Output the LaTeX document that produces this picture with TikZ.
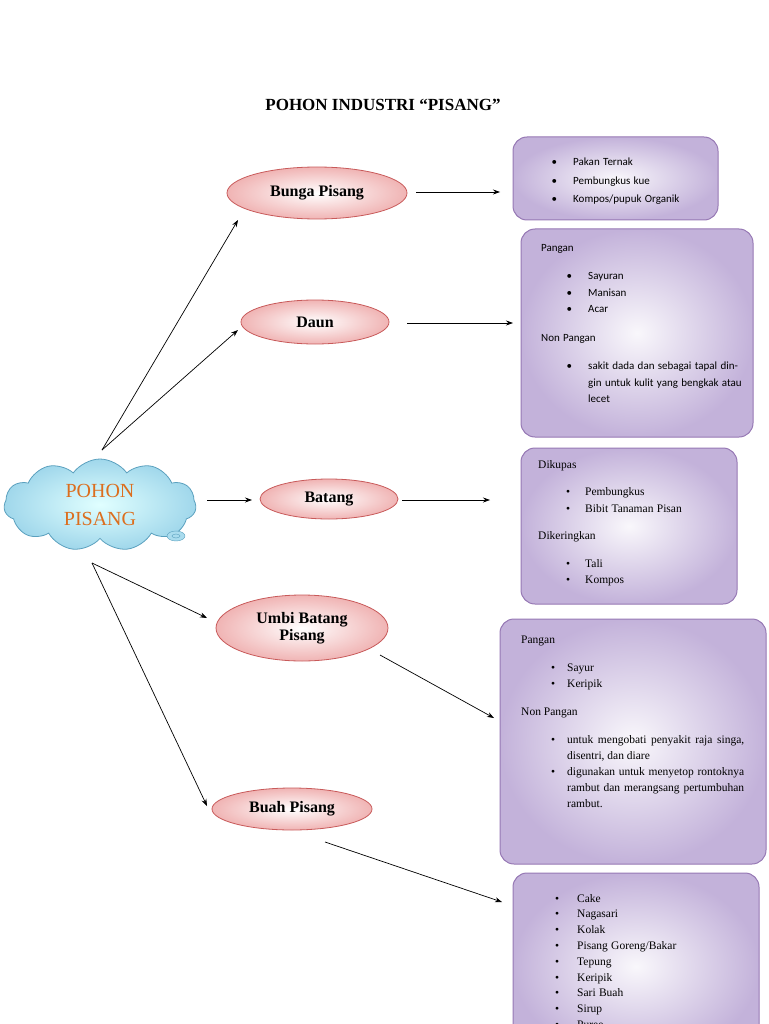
\documentclass[tikz,border=0pt]{standalone}
\usepackage{fontspec}
\setmainfont{Liberation Serif}
\newfontfamily\calfont{Carlito}
\usetikzlibrary{shapes.symbols,shapes.geometric,arrows.meta}
\definecolor{pbord}{RGB}{150,120,180}
\definecolor{pdark}{RGB}{195,178,218}
\definecolor{rbord}{RGB}{200,90,90}
\newcommand\bul[2]{\par\hangindent=#1pt\hangafter=0\noindent\llap{\textbullet\hspace{#2pt}}}
\begin{document}
\begin{tikzpicture}[x=1pt,y=-1pt,
 ell/.style={ellipse,draw=rbord,line width=0.8pt,inner color=white,outer color={rgb,255:red,240;green,180;blue,180},font=\bfseries\fontsize{16}{17}\selectfont,align=center,inner sep=0},
 box/.style={draw=pbord,line width=1pt,rounded corners=14pt,inner color=white!90!pdark,outer color=pdark},
 txt/.style={anchor=north west,inner sep=0,align=left},
 arr/.style={-{Stealth[length=7pt,width=5pt]},line width=0.7pt}]
\path[use as bounding box] (0,0) rectangle (768,1024);
\clip (0,0) rectangle (768,1024);
\node (title) at (383,105) {\bfseries\fontsize{17}{18}\selectfont POHON INDUSTRI “PISANG”};
% boxes
\draw[box] (513,137) rectangle (718,220);
\draw[box] (521,229) rectangle (753,437);
\draw[box] (521,448) rectangle (737,604);
\draw[box] (500,619) rectangle (766,864);
\draw[box] (513,873) rectangle (759,1060);
% ellipses
\node[ell,minimum width=180,minimum height=52] (bunga) at (317,193) {Bunga Pisang};
\node[ell,minimum width=148,minimum height=44] (daun) at (315,322) {Daun};
\node[ell,minimum width=138,minimum height=40] (batang) at (329,499) {Batang};
\node[ell,minimum width=172,minimum height=66] (umbi) at (302,628) {Umbi Batang\\Pisang};
\node[ell,minimum width=160,minimum height=42] (buah) at (292,809) {Buah Pisang};
% cloud
\node[cloud,cloud puffs=11,cloud puff arc=110,aspect=2,draw={rgb,255:red,90;green,160;blue,190},line width=0.8pt,inner color=white!70!cyan!40,outer color={rgb,255:red,160;green,215;blue,235},minimum width=192,minimum height=92,align=center,font=\fontsize{20}{28}\selectfont,text={rgb,255:red,220;green,110;blue,30}] (cloud) at (100,505) {POHON\\PISANG};
\draw[draw={rgb,255:red,90;green,160;blue,190},fill={rgb,255:red,170;green,220;blue,238}] (176,536) ellipse (9 and 5);
\draw[draw={rgb,255:red,90;green,160;blue,190}] (176,536) ellipse (4 and 2);
% coordinates
\coordinate (c1) at (102,450);
\coordinate (c2) at (92,563);
\coordinate (t1) at (500,192);\coordinate (s1) at (416,192);
\coordinate (t2) at (513,323);\coordinate (s2) at (407,323);
\coordinate (t3) at (490,500);\coordinate (s3) at (402,500);
\coordinate (t4) at (494,718);\coordinate (s4) at (380,655);
\coordinate (t5) at (502,902);\coordinate (s5) at (325,842);
\coordinate (e1) at (238,220);\coordinate (e2) at (238,330);
\coordinate (e3a) at (207,500);\coordinate (e3) at (252,500);
\coordinate (e4) at (207,618);\coordinate (e5) at (207,806);
\draw[arr] (c1) -- (e1);
\draw[arr] (c1) -- (e2);
\draw[arr] (e3a) -- (e3);
\draw[arr] (c2) -- (e4);
\draw[arr] (c2) -- (e5);
\draw[arr] (s1) -- (t1);
\draw[arr] (s2) -- (t2);
\draw[arr] (s3) -- (t3);
\draw[arr] (s4) -- (t4);
\draw[arr] (s5) -- (t5);
% texts
\node[txt,text width=200] (x1) at (513,147) {\calfont\fontsize{11}{18.5}\selectfont
\bul{60}{16}Pakan Ternak\bul{60}{16}Pembungkus kue\bul{60}{16}Kompos/pupuk Organik\par};
\node[txt,text width=205] (x2) at (541,244) {\calfont\fontsize{11}{16.5}\selectfont
Pangan\par\vspace{12pt}
\bul{47}{16}Sayuran\bul{47}{16}Manisan\bul{47}{16}Acar\par\vspace{12pt}
\noindent Non Pangan\par\vspace{12pt}
\bul{47}{16}sakit dada dan sebagai tapal dingin untuk kulit yang bengkak atau lecet\par};
\node[txt,text width=190] (x3) at (538,460) {\fontsize{11.5}{16.5}\selectfont
Dikupas\par\vspace{11pt}
\bul{47}{15}Pembungkus\bul{47}{15}Bibit Tanaman Pisan\par\vspace{11pt}
\noindent Dikeringkan\par\vspace{11pt}
\bul{47}{15}Tali\bul{47}{15}Kompos\par};
\node[txt,align=justify,text width=223] (x4) at (521,636) {\fontsize{11.5}{16}\selectfont
Pangan\par\vspace{12pt}
\bul{46}{12}Sayur\bul{46}{12}Keripik\par\vspace{12pt}
\noindent Non Pangan\par\vspace{12pt}
\bul{46}{12}untuk mengobati penyakit raja singa, disentri, dan diare
\bul{46}{12}digunakan untuk menyetop rontoknya rambut dan merangsang pertumbuhan rambut.\par};
\node[txt,text width=180] (x5) at (513,886) {\fontsize{11.5}{15.8}\selectfont
\bul{64}{18}Cake\bul{64}{18}Nagasari\bul{64}{18}Kolak\bul{64}{18}Pisang Goreng/Bakar\bul{64}{18}Tepung\bul{64}{18}Keripik\bul{64}{18}Sari Buah\bul{64}{18}Sirup\bul{64}{18}Puree\par};
\end{tikzpicture}
\end{document}
